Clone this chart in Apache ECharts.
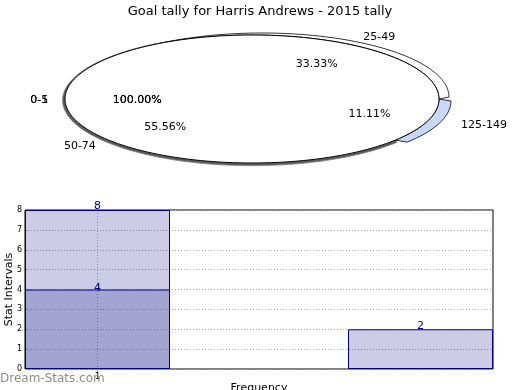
<!DOCTYPE html>
<html>
<head>
<meta charset="utf-8">
<script src="https://cdn.jsdelivr.net/npm/echarts@6/dist/echarts.min.js"></script>
<style>html,body{margin:0;padding:0;background:#fff}#c{width:520px;height:390px}</style>
</head>
<body>
<div id="c"></div>
<script>
// ---- data ----
const titleText = 'Goal tally for Harris Andrews - 2015 tally';
const pieLabels = ['0-1', '0-5', '25-49', '50-74', '125-149'];
const pieValues = [0, 0, 3, 5, 1];
const piePctLabels = ['100.00%', '100.00%', '33.33%', '55.56%', '11.11%'];
const barX = [1, 2];
const barTotals = [8, 2];
const barInnerX = [1];
const barInner = [4];
const xTickValues = [1];
const yAxisName = 'Stat Intervals';
const xAxisName = 'Frequency';
const watermark = 'Dream-Stats.com';

// ---- pie geometry / style ----
const P = { cx: 252, cy: 99, rx: 187, ry: 64 };
// band: the slice's rim drawn from an ellipse shifted by (sx, sy); side: enlarged ellipse
const sliceStyle = {
  '25-49': { fill: '#ffffff', stroke: '#000', sx: 10, sy: -2, drx: 0, dry: 0 },
  '50-74': { fill: '#5a5a5a', stroke: '#888', sx: 0, sy: 1.2, drx: 2.5, dry: 1.5 },
  '125-149': { fill: '#c8d8f8', stroke: '#000', sx: 12, sy: 2, drx: 0, dry: 0 }
};
const FONT = '"DejaVu Sans", sans-serif';

function ell(cx, cy, rx, ry, a0, a1) {
  const pts = [];
  const n = Math.max(2, Math.ceil(Math.abs(a1 - a0) / 2));
  for (let k = 0; k <= n; k++) {
    const a = (a0 + (a1 - a0) * k / n) * Math.PI / 180;
    pts.push([cx + rx * Math.cos(a), cy - ry * Math.sin(a)]);
  }
  return pts;
}

const total = pieValues.reduce((s, v) => s + v, 0);

function renderPie(params, api) {
  const i = params.dataIndex;
  const v = api.value(0);
  let start = 0;
  for (let j = 0; j < i; j++) start += pieValues[j] / total * 360;
  const end = start + v / total * 360;
  const mid = v > 0 ? (start + end) / 2 : 180;
  const children = [];
  const st = sliceStyle[pieLabels[i]];
  if (v > 0) {
    if (st) {
      const outer = ell(P.cx + st.sx, P.cy + st.sy, P.rx + st.drx, P.ry + st.dry, start, end);
      const inner = ell(P.cx, P.cy, P.rx, P.ry, end, start);
      children.push({
        type: 'polygon', z2: 1,
        shape: { points: outer.concat(inner) },
        style: { fill: st.fill, stroke: st.stroke, lineWidth: 0.8 }
      });
    }
    children.push({
      type: 'polygon', z2: 2,
      shape: { points: [[P.cx, P.cy]].concat(ell(P.cx, P.cy, P.rx, P.ry, start, end)) },
      style: { fill: '#ffffff', stroke: null }
    });
    children.push({
      type: 'polyline', z2: 3,
      shape: { points: ell(P.cx, P.cy, P.rx, P.ry, start, end) },
      style: { fill: null, stroke: '#000', lineWidth: 1 }
    });
  }
  const a = mid * Math.PI / 180;
  const c = Math.cos(a), s = Math.sin(a);
  const right = c > 0.2;
  children.push({
    type: 'text', z2: 5,
    x: P.cx + P.rx * (right ? 1.19 : 1.09) * c,
    y: P.cy + 1 - P.ry * 1.13 * s,
    style: { text: pieLabels[i], fill: '#000', font: '11px ' + FONT,
             align: right ? 'left' : 'right', verticalAlign: 'middle' }
  });
  children.push({
    type: 'text', z2: 5,
    x: P.cx + 5 + P.rx * 0.64 * c,
    y: P.cy + 1 - P.ry * 0.65 * s,
    style: { text: piePctLabels[i], fill: '#000', font: '11px ' + FONT,
             align: 'center', verticalAlign: 'middle' }
  });
  return { type: 'group', children };
}

const chart = echarts.init(document.getElementById('c'), null, { renderer: 'canvas' });
const barW = 145;
chart.setOption({
  animation: false,
  textStyle: { fontFamily: FONT },
  title: {
    text: titleText, left: 'center', top: 0,
    textStyle: { fontSize: 13, fontWeight: 'normal', color: '#000', fontFamily: FONT }
  },
  graphic: [{
    type: 'text', left: 0, top: 373, z: 100,
    style: { text: watermark, fill: '#8c8c8c', font: '12px ' + FONT }
  }],
  grid: {
    left: 25, right: 27, top: 210, bottom: 21,
    containLabel: false, outerBoundsMode: 'none',
    show: true, borderColor: '#000', borderWidth: 1, backgroundColor: 'transparent'
  },
  xAxis: {
    type: 'value', min: 0.7755, max: 2.2245,
    name: xAxisName, nameLocation: 'middle', nameGap: 14, nameMoveOverlap: false,
    nameTextStyle: { fontSize: 11, color: '#000' },
    axisLine: { show: false },
    axisTick: { show: true, customValues: xTickValues, length: 3, lineStyle: { color: '#999' } },
    axisLabel: { customValues: xTickValues, fontSize: 9, color: '#000', margin: 3 },
    splitLine: { show: true, lineStyle: { color: '#aaa', type: [1, 2], width: 1 } }
  },
  yAxis: {
    type: 'value', min: 0, max: 8, interval: 1,
    name: yAxisName, nameLocation: 'middle', nameGap: 10, nameMoveOverlap: false,
    nameTextStyle: { fontSize: 11, color: '#000' },
    axisLine: { show: false },
    axisTick: { show: true, inside: true, length: 2, lineStyle: { color: '#999' } },
    axisLabel: { fontSize: 8, color: '#000', margin: 3 },
    splitLine: { show: true, lineStyle: { color: '#aaa', type: [1, 2], width: 1 } }
  },
  series: [
    {
      type: 'custom', coordinateSystem: 'none', renderItem: renderPie,
      data: pieValues.map(v => [v]), silent: true
    },
    {
      type: 'bar', barWidth: barW, barGap: '-100%',
      data: barX.map((x, k) => [x, barTotals[k]]),
      itemStyle: { color: 'rgba(0,0,128,0.2)', borderColor: '#000080', borderWidth: 1 },
      label: { show: true, position: 'top', distance: -2, color: '#000080', fontSize: 11 }
    },
    {
      type: 'bar', barWidth: barW, barGap: '-100%',
      data: barInnerX.map((x, k) => [x, barInner[k]]),
      itemStyle: { color: 'rgba(0,0,128,0.2)', borderColor: '#000080', borderWidth: 1 },
      label: { show: true, position: 'top', distance: -4, color: '#000080', fontSize: 11 }
    }
  ]
});
</script>
</body>
</html>
